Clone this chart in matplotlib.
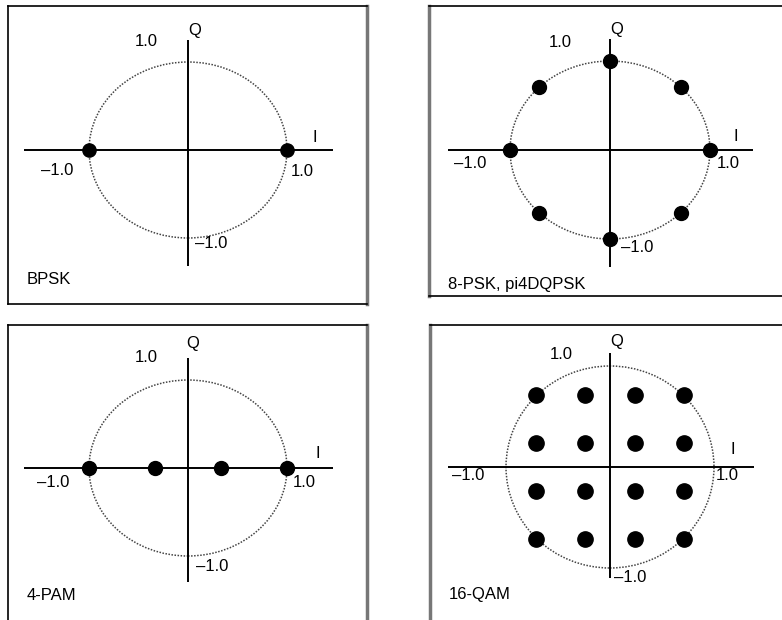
import matplotlib.pyplot as plt
from matplotlib.patches import Circle

plt.rcParams['font.family'] = ['Liberation Sans', 'DejaVu Sans']

# constellation points (I, Q)
bpsk_i = [-1.0, 1.0]
bpsk_q = [0.0, 0.0]

psk8_i = [1.0, 0.71, 0.0, -0.71, -1.0, -0.71, 0.0, 0.71]
psk8_q = [0.0, 0.71, 1.0, 0.71, 0.0, -0.71, -1.0, -0.71]

pam4_i = [-1.0, -0.33, 0.33, 1.0]
pam4_q = [0.0, 0.0, 0.0, 0.0]

qam16_i = [-0.71, -0.24, 0.24, 0.71] * 4
qam16_q = [0.71] * 4 + [0.24] * 4 + [-0.24] * 4 + [-0.71] * 4

names = ["BPSK", "8-PSK, pi4DQPSK", "4-PAM", "16-QAM"]
tick_txt = ["1.0", "Q", "I", "1.0", "\u20131.0", "\u20131.0"]

W, H = 782, 620

# panel layout in pixels: box (l, t, r, b), centre, radius x/y; axis line extents in I/Q units
panels = [
    dict(box=(8, 6, 367, 304), c=(188, 150), r=(99, 88), h=(-1.66, 1.46), v=(-1.32, 1.25),
         lab=[(-0.42, 1.23), (0.07, 1.36), (1.28, 0.14), (1.15, -0.24), (-1.32, -0.23), (0.23, -1.06)],
         gray='right', name_y=280),
    dict(box=(429, 6, 800, 296), c=(610, 150), r=(100, 89), h=(-1.62, 1.43), v=(-1.32, 1.25),
         lab=[(-0.5, 1.21), (0.07, 1.35), (1.26, 0.15), (1.18, -0.15), (-1.40, -0.15), (0.27, -1.09)],
         gray='left', name_y=285),
    dict(box=(8, 325, 367, 640), c=(188, 468), r=(99, 88), h=(-1.66, 1.46), v=(-1.30, 1.25),
         lab=[(-0.42, 1.25), (0.05, 1.42), (1.31, 0.17), (1.17, -0.17), (-1.36, -0.17), (0.24, -1.12)],
         gray='right', name_y=595),
    dict(box=(430, 325, 800, 640), c=(610, 467), r=(104, 101), h=(-1.56, 1.38), v=(-1.10, 1.13),
         lab=[(-0.47, 1.11), (0.06, 1.24), (1.18, 0.17), (1.13, -0.08), (-1.36, -0.08), (0.19, -1.09)],
         gray='left', name_y=595),
]
points = [(bpsk_i, bpsk_q), (psk8_i, psk8_q), (pam4_i, pam4_q), (qam16_i, qam16_q)]
msize = [9.5, 10, 10, 11]

fig = plt.figure(figsize=(W / 100, H / 100), dpi=100)

for p, (pi, pq), name, ms in zip(panels, points, names, msize):
    l, t, r, b = p['box']
    cx, cy = p['c']
    rx, ry = p['r']
    ax = fig.add_axes([l / W, 1 - b / H, (r - l) / W, (b - t) / H])
    ax.set_xlim((l - cx) / rx, (r - cx) / rx)
    ax.set_ylim((cy - b) / ry, (cy - t) / ry)
    ax.set_xticks([])
    ax.set_yticks([])
    for s in ax.spines.values():
        s.set_color('black')
        s.set_linewidth(1.2)
    ax.spines[p['gray']].set_color('#777777')
    ax.spines[p['gray']].set_linewidth(2.5)

    ax.add_patch(Circle((0, 0), 1.0, fill=False, ec='#444444', lw=1.1,
                        ls=(0, (1, 1)), zorder=1))
    ax.hlines(0, p['h'][0], p['h'][1], color='black', lw=1.4, zorder=2)
    ax.vlines(0, p['v'][0], p['v'][1], color='black', lw=1.4, zorder=2)
    ax.plot(pi, pq, 'o', color='black', ms=ms, zorder=3)

    for (x, y), s in zip(p['lab'], tick_txt):
        ax.text(x, y, s, ha='center', va='center', fontsize=12)
    ax.text(19 / (r - l), (b - p['name_y']) / (b - t), name,
            transform=ax.transAxes, ha='left', va='center', fontsize=12)

fig.savefig('out.png', dpi=100)
